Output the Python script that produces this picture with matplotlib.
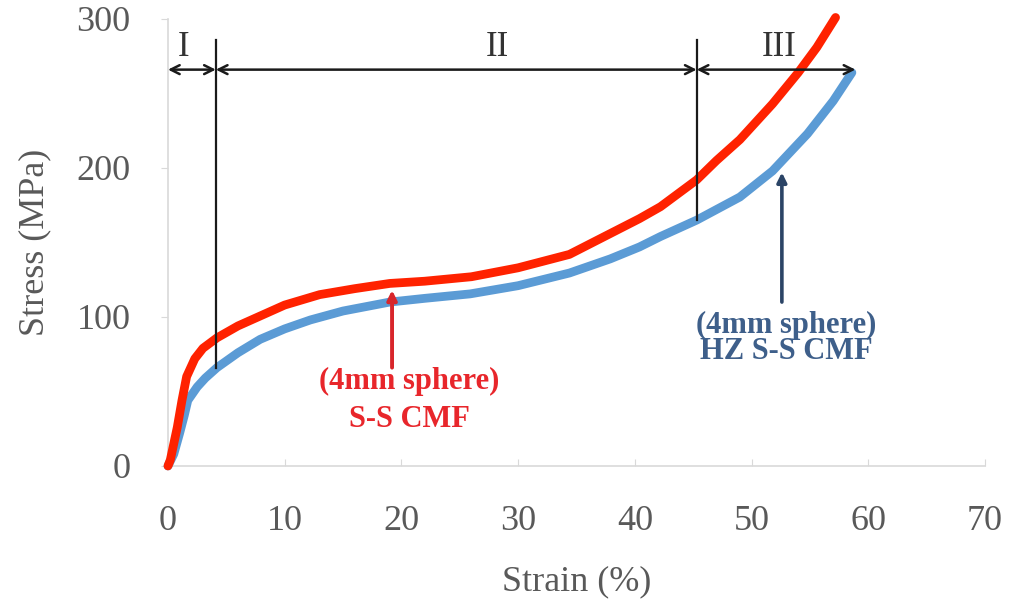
import matplotlib.pyplot as plt

# Stress-strain curves
red_strain = [0, 0.2, 0.8, 1.2, 1.6, 2.3, 3.0, 4.2, 6, 8, 10, 13, 16, 19, 22,
              26, 30, 34.4, 37.9, 40.4, 42.2, 45.3, 47, 49, 51.8, 54, 55.6, 57.2]
red_stress = [0, 4, 26, 44, 60, 72, 79, 86, 94, 101, 108, 115, 119, 122.5, 124,
              127, 133, 142, 156, 166, 174, 192, 205, 219, 243, 264, 281, 301]

blue_strain = [0, 0.5, 1.0, 1.4, 1.7, 2.5, 3.2, 4.2, 6, 7.9, 10, 12.2, 15, 19, 22,
               25.9, 30, 34.4, 37.9, 40.4, 42.2, 45.3, 49, 51.8, 54.8, 57, 58.6]
blue_stress = [0, 8, 22, 34, 44, 53, 59, 66, 76, 85, 92, 98, 104, 110, 112.5,
               115.5, 121, 129.5, 139, 147, 154, 165, 180.5, 198, 223, 245, 264]

# region boundaries and labels
bounds = [0, 4.1, 45.3, 58.9]
region_labels = ['I', 'II', 'III']
region_label_x = [1.3, 28.2, 52.4]
bound_bottom = [66, 165]

x_ticks = [0, 10, 20, 30, 40, 50, 60, 70]
y_ticks = [0, 100, 200, 300]

plt.rcParams['font.family'] = ['Liberation Serif', 'DejaVu Serif']

fig = plt.figure(figsize=(10.1, 6.08), dpi=100)
ax = fig.add_axes([0.1663, 0.2336, 0.8089, 0.7352])

ax.plot(blue_strain, blue_stress, color='#5B9BD5', lw=6.3, solid_capstyle='round',
        solid_joinstyle='round', clip_on=False, zorder=3)
ax.plot(red_strain, red_stress, color='#FF2200', lw=6.3, solid_capstyle='round',
        solid_joinstyle='round', clip_on=False, zorder=3)

# vertical region boundaries
for xb, yb in zip(bounds[1:3], bound_bottom):
    ax.plot([xb, xb], [yb, 286], color='#1a1a1a', lw=1.6, zorder=4)

# double headed arrows for the regions
arrow_y = 266
for i in range(3):
    ax.annotate('', xy=(bounds[i + 1], arrow_y), xytext=(bounds[i], arrow_y),
                arrowprops=dict(arrowstyle='<->', color='#1a1a1a', lw=1.8,
                                shrinkA=0, shrinkB=0, mutation_scale=16),
                zorder=4, annotation_clip=False)
    ax.text(region_label_x[i], 281, region_labels[i], fontsize=25, color='#333333',
            ha='center', va='center')

# curve labels
ax.annotate('', xy=(19.2, 118), xytext=(19.2, 66),
            arrowprops=dict(arrowstyle='-|>', color='#D8262B', lw=2.8,
                            shrinkA=0, shrinkB=0, mutation_scale=14), zorder=5)
ax.text(20.7, 56.5, '(4mm sphere)', fontsize=22, fontweight='bold', color='#E8262B',
        ha='center', va='center')
ax.text(20.7, 31, 'S-S CMF', fontsize=22, fontweight='bold', color='#E8262B',
        ha='center', va='center')

ax.annotate('', xy=(52.6, 197), xytext=(52.6, 110),
            arrowprops=dict(arrowstyle='-|>', color='#2B4466', lw=2.6,
                            shrinkA=0, shrinkB=0, mutation_scale=14), zorder=5)
ax.text(53.0, 94.6, '(4mm sphere)', fontsize=22, fontweight='bold', color='#3E5F8A',
        ha='center', va='center')
ax.text(53.0, 76.5, 'HZ S-S CMF', fontsize=22, fontweight='bold', color='#3E5F8A',
        ha='center', va='center')

ax.set_xlim(0, 70)
ax.set_ylim(0, 300)
ax.set_xticks(x_ticks)
ax.set_yticks(y_ticks)

for side in ['top', 'right']:
    ax.spines[side].set_visible(False)
for side in ['left', 'bottom']:
    ax.spines[side].set_color('#D9D9D9')
    ax.spines[side].set_linewidth(1.2)

ax.tick_params(axis='x', direction='in', length=5, color='#D9D9D9', pad=28,
               labelsize=26, labelcolor='#595959')
ax.tick_params(axis='y', direction='out', length=5, color='#D9D9D9', pad=22,
               labelsize=26, labelcolor='#595959')

ax.set_xlabel('Strain (%)', fontsize=26, color='#595959', labelpad=20)
ax.set_ylabel('Stress (MPa)', fontsize=26, color='#595959', labelpad=18)

fig.savefig('out.png', dpi=100)
plt.close()
